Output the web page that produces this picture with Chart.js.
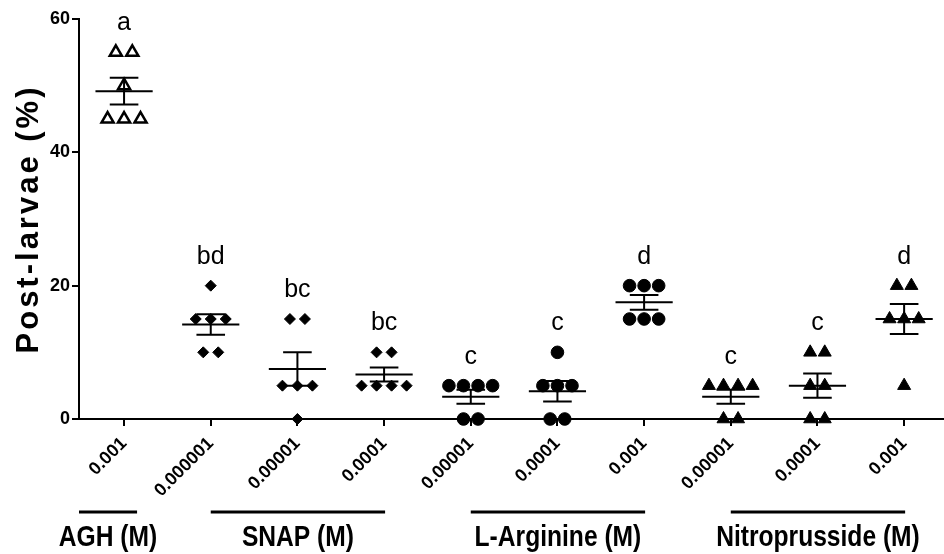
<!DOCTYPE html>
<html>
<head>
<meta charset="utf-8">
<script src="https://cdn.jsdelivr.net/npm/chart.js@4.4.1/dist/chart.umd.min.js"></script>
<style>
  html, body { margin: 0; padding: 0; background: #fff; }
</style>
</head>
<body>
<canvas id="myChart" width="944" height="554"></canvas>
<script>
const ctx = document.getElementById('myChart');

// tick labels (concentration, M) and which treatment each column belongs to
const concLabels = ['0.001', '0.000001', '0.00001', '0.0001', '0.00001', '0.0001', '0.001', '0.00001', '0.0001', '0.001'];
const groupNames = ['AGH (M)', 'SNAP (M)', 'L-Arginine (M)', 'Nitroprusside (M)'];
const groupOf = [0, 1, 1, 1, 2, 2, 2, 3, 3, 3];
const letters = ['a', 'bd', 'bc', 'bc', 'c', 'c', 'd', 'c', 'c', 'd'];

// replicate values, post-larvae (%)
const agh001 = [55, 55, 50, 45, 45, 45];
const snap1e6 = [20, 15, 15, 15, 10, 10];
const snap1e5 = [15, 15, 5, 5, 5, 0];
const snap1e4 = [10, 10, 5, 5, 5, 5];
const larg1e5 = [5, 5, 5, 5, 0, 0];
const larg1e4 = [10, 5, 5, 5, 0, 0];
const larg1e3 = [20, 20, 20, 15, 15, 15];
const nitro1e5 = [5, 5, 5, 5, 0, 0];
const nitro1e4 = [10, 10, 5, 5, 0, 0];
const nitro1e3 = [20, 20, 15, 15, 15, 5];

const columns = [agh001, snap1e6, snap1e5, snap1e4, larg1e5, larg1e4, larg1e3, nitro1e5, nitro1e4, nitro1e3];

const FONT = "'Liberation Sans', Arial, sans-serif";

// spread equal values side by side around the column centre
function spread(values, col, step) {
    const seen = {};
    const counts = {};
    values.forEach(v => counts[v] = (counts[v] || 0) + 1);
    return values.map(v => {
        const k = seen[v] || 0;
        seen[v] = k + 1;
        return { x: col + (k - (counts[v] - 1) / 2) * step, y: v };
    });
}

function pointsFor(group, step) {
    let pts = [];
    columns.forEach((vals, i) => {
        if (groupOf[i] === group) pts = pts.concat(spread(vals, i, step));
    });
    return pts;
}

function mean(a) { return a.reduce((s, v) => s + v, 0) / a.length; }
function sem(a) {
    const m = mean(a);
    const sd = Math.sqrt(a.reduce((s, v) => s + (v - m) * (v - m), 0) / (a.length - 1));
    return sd / Math.sqrt(a.length);
}

// mean line + SEM whiskers, significance letters
const meanSem = {
    id: 'meanSem',
    afterDatasetsDraw(chart) {
        const c = chart.ctx, x = chart.scales.x, y = chart.scales.y;
        c.save();
        c.strokeStyle = '#000';
        c.lineWidth = 2;
        columns.forEach((vals, i) => {
            const m = mean(vals), e = sem(vals);
            c.beginPath();
            c.moveTo(x.getPixelForValue(i - 0.33), y.getPixelForValue(m));
            c.lineTo(x.getPixelForValue(i + 0.33), y.getPixelForValue(m));
            c.moveTo(x.getPixelForValue(i), y.getPixelForValue(m - e));
            c.lineTo(x.getPixelForValue(i), y.getPixelForValue(m + e));
            c.moveTo(x.getPixelForValue(i - 0.165), y.getPixelForValue(m - e));
            c.lineTo(x.getPixelForValue(i + 0.165), y.getPixelForValue(m - e));
            c.moveTo(x.getPixelForValue(i - 0.165), y.getPixelForValue(m + e));
            c.lineTo(x.getPixelForValue(i + 0.165), y.getPixelForValue(m + e));
            c.stroke();

            c.fillStyle = '#000';
            c.font = '25px ' + FONT;
            c.textAlign = 'center';
            c.textBaseline = 'alphabetic';
            c.fillText(letters[i], x.getPixelForValue(i), y.getPixelForValue(Math.max(...vals)) - 22);
        });
        c.restore();
    }
};

// treatment bars and names under the tick labels, plus the y title
const extras = {
    id: 'extras',
    afterDraw(chart) {
        const c = chart.ctx, x = chart.scales.x, area = chart.chartArea;
        c.save();
        c.strokeStyle = '#000';
        c.fillStyle = '#000';
        c.lineWidth = 3;
        groupNames.forEach((name, g) => {
            const idx = groupOf.map((v, i) => v === g ? i : -1).filter(i => i >= 0);
            const first = idx[0], last = idx[idx.length - 1];
            let x0, x1;
            if (first === last) {
                x0 = area.left;
                x1 = x.getPixelForValue(first) + 13;
            } else {
                x0 = x.getPixelForValue(first);
                x1 = x.getPixelForValue(last) + 1;
            }
            const ly = area.bottom + 93;
            c.beginPath();
            c.moveTo(x0, ly);
            c.lineTo(x1, ly);
            c.stroke();

            c.save();
            c.translate((x0 + x1) / 2, area.bottom + 127);
            c.scale(0.82, 1);
            c.font = 'bold 30px ' + FONT;
            c.textAlign = 'center';
            c.textBaseline = 'alphabetic';
            c.fillText(name, 0, 0);
            c.restore();
        });

        c.save();
        c.translate(29, (area.top + area.bottom) / 2);
        c.rotate(-Math.PI / 2);
        c.font = 'bold 31px ' + FONT;
        c.letterSpacing = '3px';
        c.textAlign = 'center';
        c.textBaseline = 'middle';
        c.fillText('Post-larvae (%)', 0, 0);
        c.restore();
        c.restore();
    }
};

const chart = new Chart(ctx, {
    type: 'scatter',
    data: {
        datasets: [
            {
                label: 'AGH',
                data: pointsFor(0, 0.19),
                pointStyle: 'triangle',
                pointRadius: 7,
                backgroundColor: '#fff',
                borderColor: '#000',
                borderWidth: 2.5,
                clip: false
            },
            {
                label: 'SNAP',
                data: pointsFor(1, 0.173),
                pointStyle: 'rectRot',
                pointRadius: 5.5,
                backgroundColor: '#000',
                borderColor: '#000',
                borderWidth: 1,
                clip: false
            },
            {
                label: 'L-Arginine',
                data: pointsFor(2, 0.168),
                pointStyle: 'circle',
                pointRadius: 6.3,
                backgroundColor: '#000',
                borderColor: '#000',
                borderWidth: 1,
                clip: false
            },
            {
                label: 'Nitroprusside',
                data: pointsFor(3, 0.168),
                pointStyle: 'triangle',
                pointRadius: 7.5,
                backgroundColor: '#000',
                borderColor: '#000',
                borderWidth: 1,
                clip: false
            }
        ]
    },
    options: {
        responsive: false,
        maintainAspectRatio: false,
        animation: false,
        devicePixelRatio: 1,
        layout: { autoPadding: false, padding: { top: 19, right: 0, bottom: 0, left: 0 } },
        plugins: {
            legend: { display: false },
            tooltip: { enabled: false }
        },
        scales: {
            x: {
                type: 'linear',
                min: -0.52,
                max: 9.46,
                afterBuildTicks: s => { s.ticks = concLabels.map((_, i) => ({ value: i })); },
                afterFit: s => { s.height = 135; s.paddingLeft = 0; s.paddingRight = 0; },
                ticks: {
                    callback: v => concLabels[Math.round(v)],
                    autoSkip: false,
                    maxRotation: 45,
                    minRotation: 45,
                    color: '#000',
                    padding: 7,
                    font: { family: FONT, size: 18, weight: 'bold' }
                },
                grid: { drawOnChartArea: false, tickLength: 7, color: '#000', lineWidth: 2 },
                border: { color: '#000', width: 2 }
            },
            y: {
                min: 0,
                max: 60,
                afterFit: s => { s.width = 79; },
                ticks: {
                    stepSize: 20,
                    color: '#000',
                    padding: 2,
                    font: { family: FONT, size: 18, weight: 'bold' }
                },
                grid: { drawOnChartArea: false, tickLength: 7, color: '#000', lineWidth: 2 },
                border: { color: '#000', width: 2 }
            }
        }
    },
    plugins: [meanSem, extras]
});
</script>
</body>
</html>
